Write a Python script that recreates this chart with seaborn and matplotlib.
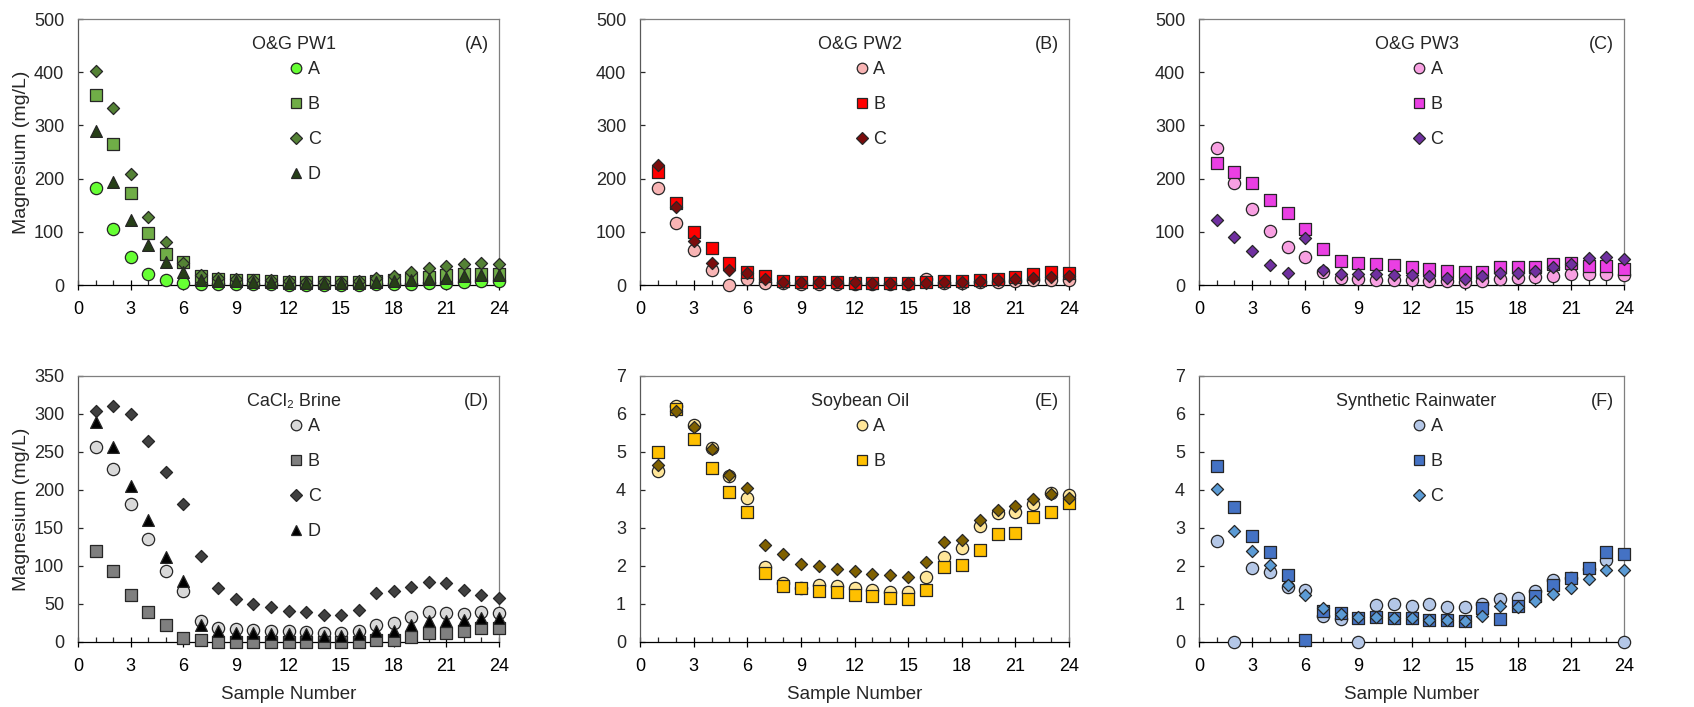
import numpy as np
import matplotlib
matplotlib.use("Agg")
import matplotlib.pyplot as plt
from matplotlib.ticker import MultipleLocator
from matplotlib.lines import Line2D
import seaborn as sns

sns.set_style("white")
plt.rcParams["font.family"] = ["Liberation Sans", "DejaVu Sans"]

samples = list(range(1, 25))

# O&G PW1
pw1_a = [182, 106, 53, 21, 9, 4, 1, 1, 1, 1, 1, 0, 0, 0, 0, 0, 1, 1, 2, 3, 4, 6, 7, 7]
pw1_b = [358, 265, 172, 97, 58, 44, 17, 12, 10, 9, 8, 5, 5, 5, 5, 5, 8, 10, 12, 15, 18, 20, 20, 20]
pw1_c = [402, 332, 209, 128, 81, 41, 19, 14, 12, 10, 10, 7, 6, 6, 6, 8, 14, 17, 24, 32, 36, 39, 42, 39]
pw1_d = [289, 194, 122, 75, 43, 25, 10, 8, 7, 6, 5, 3, 3, 3, 3, 4, 6, 8, 10, 12, 14, 16, 18, 18]

# O&G PW2
pw2_a = [182, 117, 66, 28, 0, 12, 3, 3, 2, 2, 2, 2, 2, 2, 2, 12, 4, 4, 5, 6, 8, 9, 10, 10]
pw2_b = [213, 155, 100, 69, 41, 25, 16, 8, 6, 5, 5, 4, 4, 3, 3, 5, 7, 8, 10, 12, 15, 20, 25, 22]
pw2_c = [225, 147, 83, 41, 28, 22, 11, 6, 5, 5, 5, 5, 4, 4, 4, 4, 5, 6, 8, 10, 12, 14, 15, 16]

# O&G PW3
pw3_a = [258, 192, 143, 101, 72, 53, 25, 14, 11, 10, 10, 9, 8, 7, 6, 7, 12, 14, 15, 16, 20, 20, 20, 18]
pw3_b = [229, 213, 191, 160, 135, 106, 67, 46, 41, 39, 38, 34, 31, 27, 25, 24, 33, 33, 34, 39, 41, 35, 35, 31]
pw3_c = [123, 90, 64, 38, 23, 88, 29, 21, 21, 20, 19, 18, 16, 14, 11, 16, 22, 23, 27, 33, 39, 50, 53, 48]

# CaCl2 brine
cacl_a = [257, 228, 182, 136, 93, 67, 28, 19, 17, 16, 15, 14, 13, 12, 12, 15, 22, 25, 33, 40, 38, 37, 40, 38]
cacl_b = [120, 94, 62, 40, 22, 5, 3, 0, 0, 0, 0, 0, 0, 0, 0, 0, 2, 2, 7, 12, 12, 14, 18, 18]
cacl_c = [304, 310, 300, 265, 224, 182, 113, 71, 57, 50, 46, 41, 39, 35, 35, 42, 65, 67, 72, 79, 77, 68, 62, 58]
cacl_d = [289, 257, 205, 160, 112, 80, 23, 14, 12, 12, 11, 10, 10, 8, 8, 11, 14, 15, 23, 28, 28, 29, 32, 32]

# Soybean oil
soy_a = [4.50, 6.21, 5.71, 5.10, 4.37, 3.80, 1.97, 1.55, 1.42, 1.51, 1.48, 1.42,
         1.36, 1.31, 1.31, 1.70, 2.25, 2.47, 3.04, 3.39, 3.41, 3.64, 3.92, 3.86]
soy_b = [5.00, 6.14, 5.35, 4.59, 3.94, 3.41, 1.81, 1.48, 1.42, 1.33, 1.31, 1.24,
         1.20, 1.15, 1.13, 1.36, 1.97, 2.02, 2.41, 2.85, 2.87, 3.30, 3.41, 3.65]
soy_c = [4.67, 6.08, 5.65, 5.08, 4.40, 4.05, 2.56, 2.31, 2.05, 2.00, 1.93, 1.88,
         1.80, 1.76, 1.70, 2.11, 2.63, 2.69, 3.20, 3.48, 3.58, 3.77, 3.90, 3.80]

# Synthetic rainwater
rain_a = [2.65, 0, 1.95, 1.84, 1.46, 1.38, 0.69, 0.60, 0, 0.98, 1.01, 0.94,
          1.01, 0.92, 0.92, 1.00, 1.13, 1.15, 1.35, 1.64, 1.68, 1.92, 2.16, 0]
rain_b = [4.64, 3.54, 2.78, 2.37, 1.77, 0.06, 0.81, 0.76, 0.63, 0.66, 0.63, 0.62,
          0.59, 0.57, 0.54, 0.89, 0.61, 0.94, 1.20, 1.49, 1.68, 1.96, 2.36, 2.31]
rain_c = [4.03, 2.93, 2.40, 2.03, 1.51, 1.24, 0.89, 0.74, 0.67, 0.66, 0.63, 0.63,
          0.59, 0.59, 0.56, 0.69, 0.94, 0.92, 1.09, 1.26, 1.42, 1.66, 1.90, 1.90]

# scatter area (pt^2) for data points, and marker size (pt) for legend keys
MARKER_SIZE = {"o": 78, "s": 74, "D": 38, "^": 72}
KEY_SIZE = {"o": 7.6, "s": 7.0, "D": 6.2, "^": 7.4}
EDGE = "#262626"

panels = [
    dict(title="O&G PW1", tag="(A)", ymax=500, ystep=100, ylabel=True, xlabel=False,
         series=[("A", pw1_a, "o", "#66FF33", True),
                 ("B", pw1_b, "s", "#70AD47", True),
                 ("C", pw1_c, "D", "#548235", True),
                 ("D", pw1_d, "^", "#263F17", True)]),
    dict(title="O&G PW2", tag="(B)", ymax=500, ystep=100, ylabel=False, xlabel=False,
         series=[("A", pw2_a, "o", "#F8B4B4", True),
                 ("B", pw2_b, "s", "#FF0000", True),
                 ("C", pw2_c, "D", "#7B0C0C", True)]),
    dict(title="O&G PW3", tag="(C)", ymax=500, ystep=100, ylabel=False, xlabel=False,
         series=[("A", pw3_a, "o", "#F8A0E2", True),
                 ("B", pw3_b, "s", "#EA3FE3", True),
                 ("C", pw3_c, "D", "#7030A0", True)]),
    dict(title="CaCl\u2082 Brine", tag="(D)", ymax=350, ystep=50, ylabel=True, xlabel=True,
         series=[("A", cacl_a, "o", "#D9D9D9", True),
                 ("B", cacl_b, "s", "#7F7F7F", True),
                 ("C", cacl_c, "D", "#404040", True),
                 ("D", cacl_d, "^", "#000000", True)]),
    dict(title="Soybean Oil", tag="(E)", ymax=7, ystep=1, ylabel=False, xlabel=True,
         series=[("A", soy_a, "o", "#FFE699", True),
                 ("B", soy_b, "s", "#FFC000", True),
                 ("C", soy_c, "D", "#7F6000", False)]),
    dict(title="Synthetic Rainwater", tag="(F)", ymax=7, ystep=1, ylabel=False, xlabel=True,
         series=[("A", rain_a, "o", "#B4C7E7", True),
                 ("B", rain_b, "s", "#4472C4", True),
                 ("C", rain_c, "D", "#5B9BD5", True)]),
]

W, H = 1694, 707
fig = plt.figure(figsize=(W / 100, H / 100), dpi=100)

lefts = [78, 640, 1199]
widths = [421, 429, 425]
tops = [19, 376]
ax_h = 266

for i, p in enumerate(panels):
    row, col = divmod(i, 3)
    ax = fig.add_axes([lefts[col] / W, 1 - (tops[row] + ax_h) / H,
                       widths[col] / W, ax_h / H])
    handles, labels = [], []
    for label, vals, marker, color, in_legend in p["series"]:
        sns.scatterplot(x=samples, y=vals, ax=ax, marker=marker,
                        s=MARKER_SIZE[marker], color=color, edgecolor=EDGE,
                        linewidth=0.9, clip_on=False, zorder=3, legend=False)
        if in_legend:
            handles.append(Line2D([], [], linestyle="none", marker=marker,
                                  markersize=KEY_SIZE[marker], markerfacecolor=color,
                                  markeredgecolor=EDGE, markeredgewidth=0.9))
            labels.append(label)

    ax.set_xlim(0, 24)
    ax.set_ylim(0, p["ymax"])
    ax.xaxis.set_major_locator(MultipleLocator(3))
    ax.xaxis.set_minor_locator(MultipleLocator(1))
    ax.yaxis.set_major_locator(MultipleLocator(p["ystep"]))
    ax.tick_params(axis="x", which="major", direction="inout", length=7, width=0.9,
                   pad=8, labelsize=13, colors="#000000", bottom=True)
    ax.tick_params(axis="x", which="minor", direction="in", length=3.5, width=0.9,
                   bottom=True)
    ax.tick_params(axis="y", which="major", direction="in", length=3.5, width=0.9,
                   pad=10, labelsize=13, left=True)
    for side in ["top", "right", "left"]:
        ax.spines[side].set_color("#7F7F7F")
        ax.spines[side].set_linewidth(0.9)
    ax.spines["bottom"].set_color("#000000")
    ax.spines["bottom"].set_linewidth(0.9)
    ax.spines["left"].set_color("#595959")

    if p["ylabel"]:
        ax.set_ylabel("Magnesium (mg/L)", fontsize=14, labelpad=3)
    if p["xlabel"]:
        ax.set_xlabel("Sample Number", fontsize=13.5, labelpad=8)

    ax.text(0.512, 0.905, p["title"], transform=ax.transAxes, ha="center",
            va="center", fontsize=13)
    ax.text(0.976, 0.905, p["tag"], transform=ax.transAxes, ha="right",
            va="center", fontsize=13)
    ax.legend(handles, labels, loc="upper left", bbox_to_anchor=(0.462, 0.89),
              frameon=False, fontsize=13, labelspacing=1.0,
              handletextpad=0.05, handlelength=1.2, borderpad=0.2)

fig.savefig("out.png", dpi=100, facecolor="white")
